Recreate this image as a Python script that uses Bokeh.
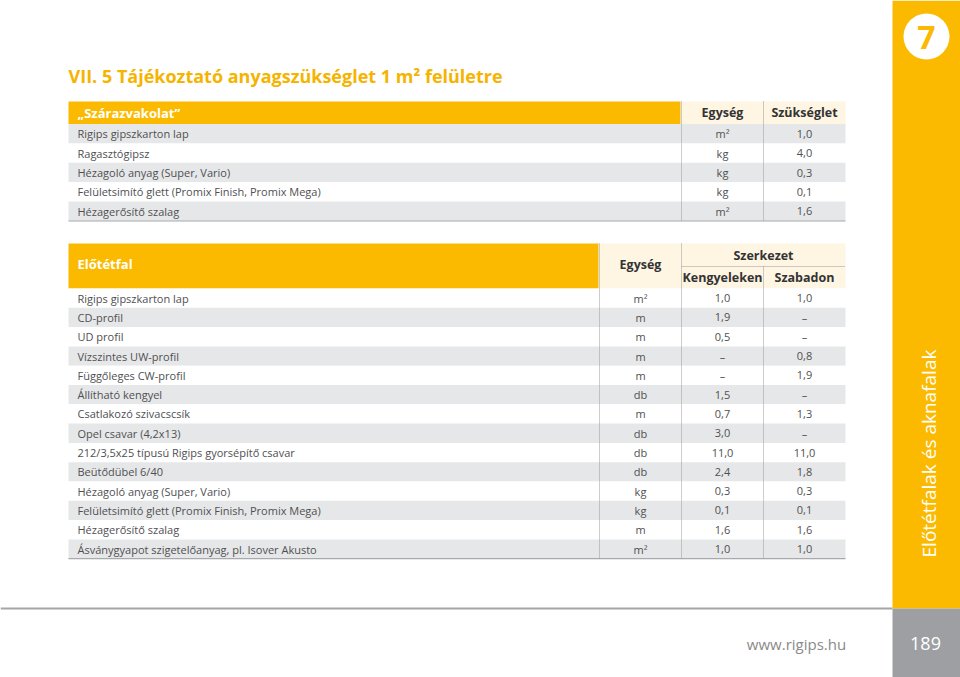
import math
from bokeh.plotting import figure
from bokeh.models import Range1d, ColumnDataSource
from bokeh.core.properties import value
from bokeh.embed import file_html
from bokeh.resources import INLINE

# ---------------- data ----------------
title_text = "VII. 5 Tájékoztató anyagszükséglet 1 m² felületre"

t1_title = "„Szárazvakolat”"
t1_cols = ["Egység", "Szükséglet"]
t1_items = ["Rigips gipszkarton lap", "Ragasztógipsz", "Hézagoló anyag (Super, Vario)",
            "Felületsimító glett (Promix Finish, Promix Mega)", "Hézagerősítő szalag"]
t1_units = ["m²", "kg", "kg", "kg", "m²"]
t1_need = [1.0, 4.0, 0.3, 0.1, 1.6]

t2_title = "Előtétfal"
t2_group = "Szerkezet"
t2_cols = ["Egység", "Kengyeleken", "Szabadon"]
t2_items = ["Rigips gipszkarton lap", "CD-profil", "UD profil", "Vízszintes UW-profil",
            "Függőleges CW-profil", "Állítható kengyel", "Csatlakozó szivacscsík",
            "Opel csavar (4,2x13)", "212/3,5x25 típusú Rigips gyorsépítő csavar",
            "Beütődübel 6/40", "Hézagoló anyag (Super, Vario)",
            "Felületsimító glett (Promix Finish, Promix Mega)", "Hézagerősítő szalag",
            "Ásványgyapot szigetelőanyag, pl. Isover Akusto"]
t2_units = ["m²", "m", "m", "m", "m", "db", "m", "db", "db", "db", "kg", "kg", "m", "m²"]
t2_keng = [1.0, 1.9, 0.5, None, None, 1.5, 0.7, 3.0, 11.0, 2.4, 0.3, 0.1, 1.6, 1.0]
t2_szab = [1.0, None, None, 0.8, 1.9, None, 1.3, None, 11.0, 1.8, 0.3, 0.1, 1.6, 1.0]

chapter_no = "7"
chapter_name = "Előtétfalak és aknafalak"
page_no = "189"
website = "www.rigips.hu"

# ---------------- style ----------------
YELLOW = "#FBBA00"
CREAM = "#FEF5E3"
GRAY_ROW = "#E6E7E8"
TEXT = "#505052"
HEAD = "#333333"
FONT = value("Open Sans")
ROWFS = "11px"
HEADFS = "12.5px"


def fmt(v):
    return "–" if v is None else f"{v:.1f}".replace(".", ",")


W, H = 960, 677
p = figure(width=W, height=H, output_backend="svg", toolbar_location=None,
           x_range=Range1d(0, W), y_range=Range1d(H, 0),
           min_border=0, outline_line_color=None)
p.axis.visible = False
p.grid.visible = False
p.background_fill_color = "white"
p.border_fill_color = "white"

# Title
p.text(x=[68], y=[75], text=[title_text], text_font=FONT, text_font_style="bold",
       text_font_size="18px", text_color="#F5B400", text_baseline="middle")

# ---------- table 1 ----------
L, R = 68, 845
rh = 19.4
t1_top, t1_hb, t1_yend = 101, 123.5, 680
t1_bounds = [681, 763, 845]
t1_centers = [(t1_bounds[i] + t1_bounds[i + 1]) / 2 for i in range(len(t1_cols))]

p.quad(left=[L], right=[t1_yend], top=[t1_top], bottom=[t1_hb], fill_color=YELLOW, line_color=None)
p.quad(left=[t1_bounds[0]], right=[R], top=[t1_top], bottom=[t1_hb], fill_color=CREAM, line_color=None)
p.text(x=[77], y=[(t1_top + t1_hb) / 2], text=[t1_title], text_font=FONT, text_font_style="bold",
       text_font_size="13px", text_color="white", text_baseline="middle")
p.text(x=t1_centers, y=[(t1_top + t1_hb) / 2] * len(t1_cols), text=t1_cols, text_font=FONT,
       text_font_style="bold", text_font_size=HEADFS, text_color=HEAD, text_baseline="middle",
       text_align="center")

n1 = len(t1_items)
tops1 = [t1_hb + i * rh for i in range(n1)]
src1 = ColumnDataSource(dict(
    top=tops1, bottom=[t + rh for t in tops1], mid=[t + rh / 2 for t in tops1],
    fill=[GRAY_ROW if i % 2 == 0 else "white" for i in range(n1)],
    item=t1_items, unit=t1_units, need=[fmt(v) for v in t1_need]))
p.quad(left=L, right=R, top="top", bottom="bottom", fill_color="fill", line_color=None, source=src1)
p.text(x=77, y="mid", text="item", source=src1, text_font=FONT, text_font_size=ROWFS,
       text_color=TEXT, text_baseline="middle")
p.text(x=t1_centers[0], y="mid", text="unit", source=src1, text_font=FONT, text_font_size=ROWFS,
       text_color=TEXT, text_baseline="middle", text_align="center")
p.text(x=t1_centers[1], y="mid", text="need", source=src1, text_font=FONT, text_font_size=ROWFS,
       text_color=TEXT, text_baseline="middle", text_align="center")
t1_bot = t1_hb + n1 * rh
p.segment(x0=[L], x1=[R], y0=[t1_bot], y1=[t1_bot], line_color="#A7A9AC", line_width=1.2)
p.segment(x0=t1_bounds[:2], x1=t1_bounds[:2], y0=[t1_top] * 2, y1=[t1_bot] * 2,
          line_color="#9A9A9A", line_width=1, line_dash="1 1")

# ---------- table 2 ----------
t2_top, t2_mid, t2_hb, t2_yend = 243, 266, 288, 598
t2_bounds = [599, 681, 763, 845]
t2_centers = [(t2_bounds[i] + t2_bounds[i + 1]) / 2 for i in range(len(t2_cols))]

p.quad(left=[L], right=[t2_yend], top=[t2_top], bottom=[t2_hb], fill_color=YELLOW, line_color=None)
p.quad(left=[t2_bounds[0]], right=[R], top=[t2_top], bottom=[t2_hb], fill_color=CREAM, line_color=None)
p.text(x=[77], y=[263], text=[t2_title], text_font=FONT, text_font_style="bold",
       text_font_size="13px", text_color="white", text_baseline="middle")
p.text(x=[t2_centers[0]], y=[264], text=[t2_cols[0]], text_font=FONT, text_font_style="bold",
       text_font_size=HEADFS, text_color=HEAD, text_baseline="middle", text_align="center")
p.text(x=[(t2_bounds[1] + t2_bounds[3]) / 2], y=[255], text=[t2_group], text_font=FONT,
       text_font_style="bold", text_font_size=HEADFS, text_color=HEAD, text_baseline="middle",
       text_align="center")
p.text(x=t2_centers[1:], y=[277] * 2, text=t2_cols[1:], text_font=FONT, text_font_style="bold",
       text_font_size=HEADFS, text_color=HEAD, text_baseline="middle", text_align="center")

n2 = len(t2_items)
rh2 = 19.3
tops2 = [t2_hb + i * rh2 for i in range(n2)]
src2 = ColumnDataSource(dict(
    top=tops2, bottom=[t + rh2 for t in tops2], mid=[t + rh2 / 2 for t in tops2],
    fill=["white" if i % 2 == 0 else GRAY_ROW for i in range(n2)],
    item=t2_items, unit=t2_units, keng=[fmt(v) for v in t2_keng], szab=[fmt(v) for v in t2_szab]))
p.quad(left=L, right=R, top="top", bottom="bottom", fill_color="fill", line_color=None, source=src2)
p.text(x=77, y="mid", text="item", source=src2, text_font=FONT, text_font_size=ROWFS,
       text_color=TEXT, text_baseline="middle")
for cx, col in zip(t2_centers, ["unit", "keng", "szab"]):
    p.text(x=cx, y="mid", text=col, source=src2, text_font=FONT, text_font_size=ROWFS,
           text_color=TEXT, text_baseline="middle", text_align="center")
t2_bot = t2_hb + n2 * rh2
p.segment(x0=[L], x1=[R], y0=[t2_bot], y1=[t2_bot], line_color="#A7A9AC", line_width=1.2)
p.segment(x0=t2_bounds[:2], x1=t2_bounds[:2], y0=[t2_top] * 2, y1=[t2_bot] * 2,
          line_color="#9A9A9A", line_width=1, line_dash="1 1")
p.segment(x0=[t2_bounds[2]], x1=[t2_bounds[2]], y0=[t2_mid], y1=[t2_bot],
          line_color="#9A9A9A", line_width=1, line_dash="1 1")
p.segment(x0=[t2_bounds[1]], x1=[t2_bounds[3]], y0=[t2_mid], y1=[t2_mid],
          line_color="#9A9A9A", line_width=1, line_dash="1 1")

# ---------- page frame ----------
p.quad(left=[892], right=[962], top=[0], bottom=[608], fill_color=YELLOW, line_color=None)
p.quad(left=[892], right=[962], top=[608], bottom=[680], fill_color="#9D9FA2", line_color=None)
p.segment(x0=[0], x1=[892], y0=[608], y1=[608], line_color="#A5A5A5", line_width=2)
p.circle(x=[926], y=[36], radius=23, fill_color="white", line_color=None)
p.text(x=[926], y=[37], text=[chapter_no], text_font=FONT, text_font_style="bold",
       text_font_size="32px", text_color=YELLOW, text_baseline="middle", text_align="center")
p.text(x=[928], y=[453], text=[chapter_name], angle=math.pi / 2, text_font=FONT,
       text_font_size="19px", text_color="white", text_baseline="middle", text_align="center")
p.text(x=[925], y=[643], text=[page_no], text_font=FONT, text_font_size="18px",
       text_color="white", text_baseline="middle", text_align="center")
p.text(x=[796], y=[643], text=[website], text_font=FONT, text_font_size="15px",
       text_color="#8A8A8A", text_baseline="middle", text_align="center")

open("out.html", "w").write(file_html(p, INLINE))
